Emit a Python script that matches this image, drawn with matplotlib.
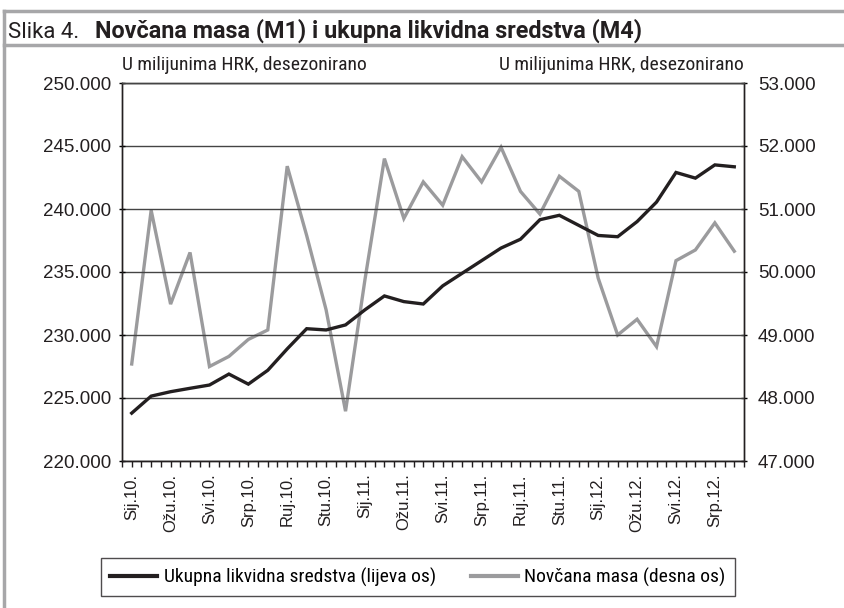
import matplotlib.pyplot as plt
from matplotlib.lines import Line2D
from matplotlib.ticker import FuncFormatter, FixedLocator

# Data (Jan 2010 - Aug 2012)
months = ["Sij", "Velj", "Ožu", "Tra", "Svi", "Lip", "Srp", "Kol", "Ruj", "Lis", "Stu", "Pro"]
labels = [f"{m}.{y}." for y in (10, 11, 12) for m in months][:32]

m4 = [223800, 225150, 225500, 225770, 226030, 226900, 226100, 227200,
      228900, 230500, 230400, 230800, 232000, 233100, 232650, 232460,
      233900, 234900, 235900, 236900, 237600, 239150, 239500, 238700,
      237900, 237800, 239000, 240550, 242900, 242450, 243500, 243350]

m1 = [48540, 50980, 49490, 50310, 48500, 48660, 48930, 49080,
      51680, 50580, 49400, 47790, 49880, 51800, 50850, 51430,
      51060, 51830, 51430, 51980, 51280, 50920, 51520, 51280,
      49900, 49000, 49250, 48815, 50180, 50350, 50780, 50330]

narrow = ["Roboto Condensed", "Archivo Narrow", "Liberation Sans", "DejaVu Sans"]
title_font = ["Roboto", "Liberation Sans", "DejaVu Sans"]
plt.rcParams["font.family"] = ["Liberation Sans", "DejaVu Sans"]

fig = plt.figure(figsize=(8.45, 6.08), dpi=100)
ax = fig.add_axes([122 / 845, 1 - 461 / 608, 622 / 845, 378 / 608])
ax2 = ax.twinx()

x = list(range(len(m4)))
l1, = ax.plot(x, m4, color="#231f20", lw=2.4, solid_joinstyle="miter")
l2, = ax2.plot(x, m1, color="#9b9b9d", lw=2.4, solid_joinstyle="miter")
ax.set_zorder(ax2.get_zorder() + 1)
ax.patch.set_visible(False)

ax.set_xlim(-0.5, len(m4) - 0.5)
ax.set_ylim(220000, 250000)
ax2.set_ylim(47000, 53000)
ax.set_yticks(range(220000, 250001, 5000))
ax2.set_yticks(range(47000, 53001, 1000))

fmt = FuncFormatter(lambda v, p: f"{v:,.0f}".replace(",", "."))
ax.yaxis.set_major_formatter(fmt)
ax2.yaxis.set_major_formatter(fmt)

ax.set_xticks(x[::2])
ax.set_xticklabels(labels[::2], rotation=90, fontsize=12, color="#231f20")
ax.xaxis.set_minor_locator(FixedLocator([i + 0.5 for i in range(-1, len(m4))] + x[1::2]))
ax.tick_params(axis="x", which="both", length=4, width=1, color="#231f20", pad=5)
ax.tick_params(axis="y", labelsize=13.5, length=4, width=1, direction="inout", pad=6,
               labelcolor="#231f20")
ax2.tick_params(axis="y", labelsize=13.5, length=4, width=1, direction="inout", pad=8,
                labelcolor="#231f20")

ax.grid(axis="y", color="#444444", lw=1)
for a in (ax, ax2):
    for s in a.spines.values():
        s.set_color("#231f20")
        s.set_linewidth(1)
    a.spines["top"].set_color("#444444")

ax.text(0.0, 1.025, "U milijunima HRK, desezonirano", transform=ax.transAxes,
        ha="left", va="bottom", fontsize=14, family=narrow, color="#231f20")
ax.text(1.0, 1.025, "U milijunima HRK, desezonirano", transform=ax.transAxes,
        ha="right", va="bottom", fontsize=14, family=narrow, color="#231f20")

# title and frame
fig.text(8 / 845, 1 - 38 / 608, "Slika 4.", fontsize=16, family=title_font,
         ha="left", va="baseline", color="#231f20")
fig.text(95 / 845, 1 - 38 / 608, "Novčana masa (M1) i ukupna likvidna sredstva (M4)",
         fontsize=16.8, family=title_font, weight="bold", ha="left", va="baseline", color="#231f20")
frame = "#a7a7a9"
fig.add_artist(Line2D([4 / 845, 1], [1 - 11 / 608] * 2, color=frame, lw=2.5))
fig.add_artist(Line2D([4 / 845, 1], [1 - 45 / 608] * 2, color=frame, lw=2.5))
fig.add_artist(Line2D([4 / 845] * 2, [0, 1 - 11 / 608], color=frame, lw=2.5))

leg = fig.legend([l1, l2], ["Ukupna likvidna sredstva (lijeva os)", "Novčana masa (desna os)"],
                 loc="center", bbox_to_anchor=(418 / 845, 1 - 577 / 608), ncol=2,
                 prop={"family": narrow, "size": 14}, frameon=True, fancybox=False,
                 edgecolor="#231f20", handlelength=2.4, handletextpad=0.35,
                 columnspacing=1.8, borderpad=0.5, borderaxespad=0)
leg.get_frame().set_linewidth(1)
for h in leg.legend_handles:
    h.set_linewidth(3)

fig.savefig("out.png", dpi=100)
